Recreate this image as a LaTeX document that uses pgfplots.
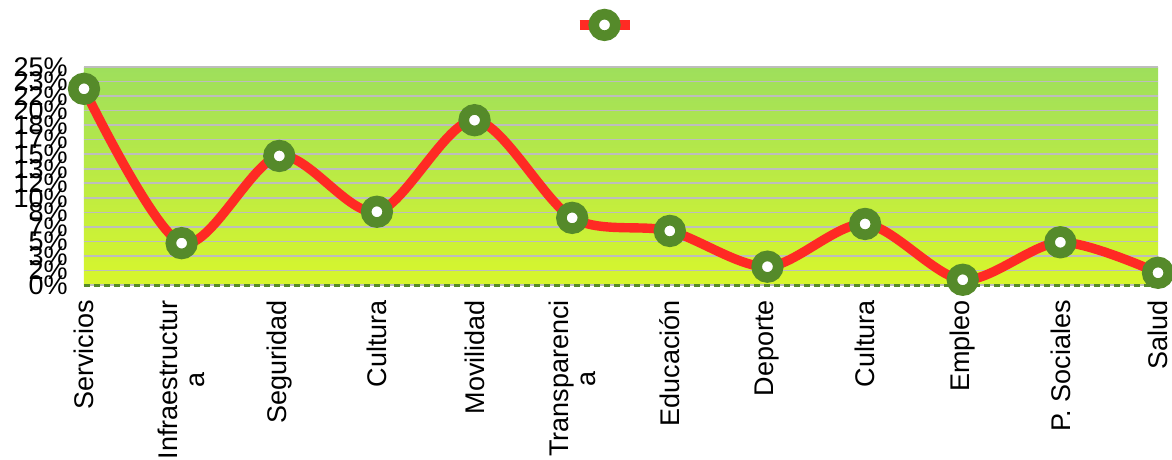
\documentclass[border=0pt]{standalone}
\usepackage{fontspec}
\setmainfont{Liberation Sans}
\usepackage{pgfplots}
\pgfplotsset{compat=1.18}

\definecolor{linered}{HTML}{FF2A24}
\definecolor{markgreen}{HTML}{558A2A}
\definecolor{bgtop}{HTML}{9EDF5C}
\definecolor{bgbot}{HTML}{D8F62C}
\definecolor{gridgray}{HTML}{BDBDBD}

\begin{document}
\begin{tikzpicture}
\begin{axis}[
    scale only axis,
    width=537pt, height=109pt,
    xmin=0, xmax=11, ymin=0, ymax=25,
    clip=false,
    axis background/.style={shade, top color=bgtop, bottom color=bgbot},
    axis x line*=bottom, axis y line*=left,
    x axis line style={draw=markgreen, line width=1.5pt, dash pattern=on 3pt off 2pt, -},
    y axis line style={draw=none},
    major tick length=0pt,
    ymajorgrids, grid style={gridgray, line width=0.8pt},
    xtick={0,...,11},
    xticklabels={Servicios,{Infraestructur\\a},Seguridad,Cultura,Movilidad,{Transparenci\\a},Educación,Deporte,Cultura,Empleo,P. Sociales,Salud},
    xticklabel style={rotate=90, anchor=east, align=center, font=\fontsize{13.5}{13.5}\selectfont, inner sep=0pt},
    xticklabel shift=7.5pt,
    ytick={0,1.66667,3.33333,5,6.66667,8.33333,10,11.66667,13.33333,15,16.66667,18.33333,20,21.66667,23.33333,25},
    yticklabels={0\%,2\%,3\%,5\%,7\%,8\%,10\%,12\%,13\%,15\%,17\%,18\%,20\%,22\%,23\%,25\%},
    yticklabel style={font=\fontsize{13.5}{13.5}\selectfont, inner sep=0pt},
    yticklabel shift=8pt,
    legend style={draw=none, fill=none, at={(0.457,1.193)}, anchor=west, inner sep=0pt, outer sep=0pt},
    legend image code/.code={\draw[mark repeat=2,mark phase=2,#1] plot coordinates {(0pt,0pt) (12.5pt,0pt) (25pt,0pt)};},
]
\addplot[smooth, tension=0.5, color=linered, line width=4.7pt,
    mark=*, mark size=5.4pt,
    mark options={draw=markgreen, fill=white, line width=5.3pt}]
    coordinates {
    (0,22.5) (1,4.8) (2,14.8) (3,8.4) (4,18.9) (5,7.7)
    (6,6.2) (7,2.1) (8,7.0) (9,0.6) (10,4.9) (11,1.4)
    };
\addlegendentry{}
\coordinate (ll) at (rel axis cs:0,0);
\coordinate (ur) at (rel axis cs:1,1);
\end{axis}
\pgfresetboundingbox
\path[use as bounding box] ([xshift=-42pt,yshift=-87.5pt]ll) rectangle ([xshift=7pt,yshift=33.5pt]ur);
\end{tikzpicture}
\end{document}
